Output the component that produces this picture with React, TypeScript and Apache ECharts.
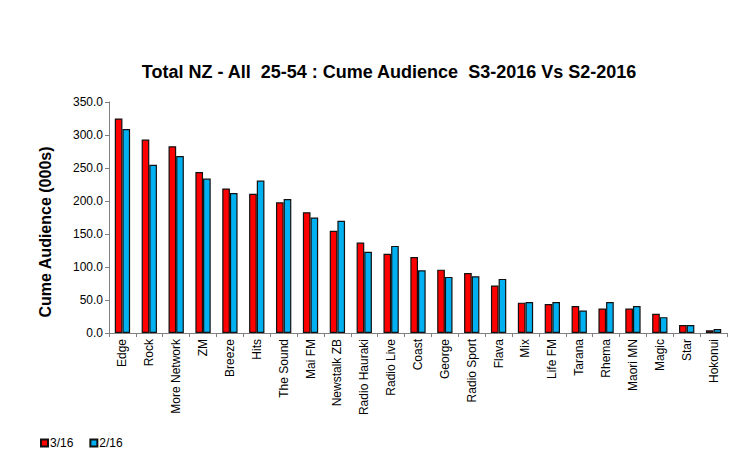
import React, { useEffect, useRef } from "react";
import * as echarts from "echarts";

const categories = [
  "Edge", "Rock", "More Network", "ZM", "Breeze", "Hits", "The Sound", "Mai FM",
  "Newstalk ZB", "Radio Hauraki", "Radio Live", "Coast", "George", "Radio Sport",
  "Flava", "Mix", "Life FM", "Tarana", "Rhema", "Maori MN", "Magic", "Star", "Hokonui",
];
const s3_2016 = [325, 293, 283, 244, 219, 211, 198, 183, 155, 137, 120, 115, 96, 91, 72, 46, 44, 41, 37, 37, 29, 12, 4];
const s2_2016 = [309, 255, 268, 234, 212, 231, 203, 175, 170, 123, 132, 95, 85, 86, 82, 47, 47, 34, 47, 41, 24, 12, 6];
const yTicks = { min: 0, max: 350, interval: 50 };

const FONT = "Liberation Sans, Arial, sans-serif";

export default function App() {
  const ref = useRef<HTMLDivElement>(null);
  useEffect(() => {
    if (!ref.current) return;
    const chart = echarts.init(ref.current, undefined, { renderer: "svg" });
    chart.setOption({
      animation: false,
      backgroundColor: "#ffffff",
      title: {
        text: "Total NZ - All  25-54 : Cume Audience  S3-2016 Vs S2-2016",
        left: 384,
        textAlign: "center",
        top: 58,
        textStyle: { fontFamily: FONT, fontSize: 18, fontWeight: "bold", color: "#000" },
      },
      graphic: [
        {
          type: "text",
          x: 45,
          y: 232,
          rotation: Math.PI / 2,
          style: {
            text: "Cume Audience (000s)",
            align: "center",
            verticalAlign: "middle",
            fontFamily: FONT,
            fontSize: 16,
            fontWeight: "bold",
            fill: "#000",
          },
        },
      ],
      legend: {
        left: 35,
        top: 432,
        itemWidth: 7,
        itemHeight: 7,
        itemGap: 16,
        icon: "rect",
        textStyle: { fontFamily: FONT, fontSize: 12, color: "#000", padding: [0, 0, 0, -3] },
        data: ["3/16", "2/16"],
      },
      grid: { left: 109, right: 27, top: 102, bottom: 131, containLabel: false },
      xAxis: {
        type: "category",
        data: categories,
        axisLine: { lineStyle: { color: "#808080", width: 1 } },
        axisTick: { show: true, length: 4, alignWithLabel: false, lineStyle: { color: "#808080" } },
        axisLabel: {
          rotate: 90,
          interval: 0,
          fontFamily: FONT,
          fontSize: 12,
          color: "#000",
          margin: 6,
        },
      },
      yAxis: {
        type: "value",
        min: yTicks.min,
        max: yTicks.max,
        interval: yTicks.interval,
        axisLine: { show: true, lineStyle: { color: "#808080", width: 1 } },
        axisTick: { show: true, length: 4, lineStyle: { color: "#808080" } },
        splitLine: { show: false },
        axisLabel: {
          fontFamily: FONT,
          fontSize: 12,
          color: "#000",
          margin: 6,
          formatter: (v: number) => v.toFixed(1),
        },
      },
      series: [
        {
          name: "3/16",
          type: "bar",
          data: s3_2016,
          barGap: "0%",
          barCategoryGap: "43%",
          itemStyle: { color: "#FF0000", borderColor: "#111", borderWidth: 1.2 },
        },
        {
          name: "2/16",
          type: "bar",
          data: s2_2016,
          barGap: "0%",
          barCategoryGap: "43%",
          itemStyle: { color: "#00B0F0", borderColor: "#111", borderWidth: 1.2 },
        },
      ],
    });
    return () => chart.dispose();
  }, []);
  return <div ref={ref} style={{ width: 754, height: 464, position: "absolute", left: 0, top: 0 }} />;
}
